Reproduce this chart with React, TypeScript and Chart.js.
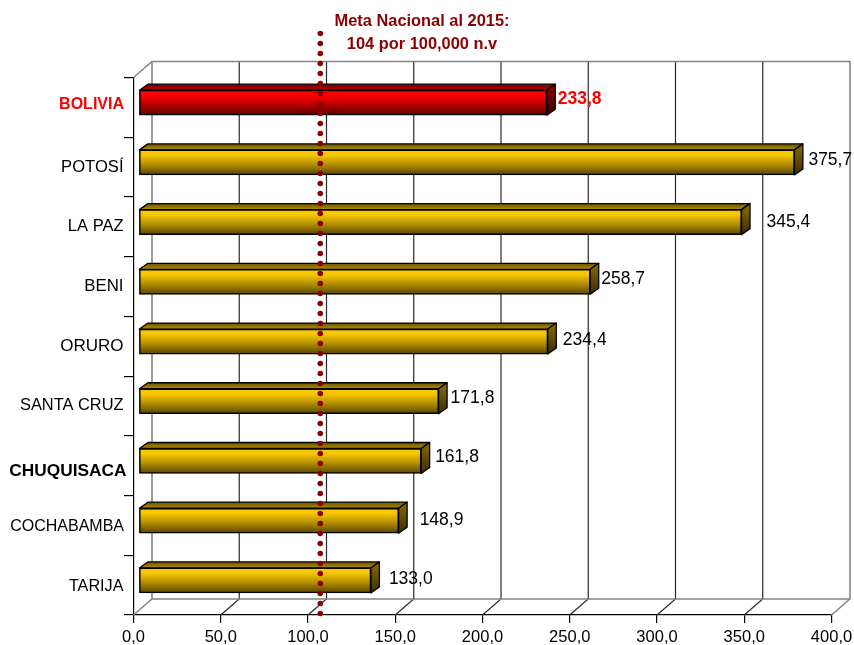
import React, { useEffect, useRef } from "react";
import { Chart, registerables } from "chart.js";

Chart.register(...registerables);

// Maternal mortality ratio by department, per 100,000 live births
const departments = ["BOLIVIA", "POTOSÍ", "LA PAZ", "BENI", "ORURO", "SANTA CRUZ", "CHUQUISACA", "COCHABAMBA", "TARIJA"];
const ratios = [233.8, 375.7, 345.4, 258.7, 234.4, 171.8, 161.8, 148.9, 133.0];
const nationalGoal = 104;
const goalLines = ["Meta Nacional al 2015:", "104 por 100,000 n.v"];

// Hand-placed offsets of the value labels (from the end of each bar) and category labels
const valueLabelDx = [2.5, 5.5, 16.5, 2.5, 6.5, 3.5, 5.5, 12.5, 9.5];
const valueLabelDy = [0, 1, 3, 0, 2, 0, -1, 2, 2];
const categoryLabelDx = [0, -0.5, -0.5, -0.5, -0.5, -0.5, 2.5, 0, -0.5];
const categoryLabelDy = [-3, 0, 0, 0, 0, 0, 6, 1, 1];
const categoryFontSize = [16, 16.6, 16.5, 16.8, 17, 16.4, 17.3, 16, 16.2];

const FONT = '"Liberation Sans", Arial, sans-serif';
const WALL = { dx: 18.5, dy: -16 };
const BAR_SHIFT = { dx: 5.3, dy: -4.7 };
const BAR_DEPTH = { dx: 8.5, dy: -6 };
const BAR_THICKNESS = 25;

const gold = { light: "#f8c800", mid: "#b08c00", dark: "#584400", top1: "#6a5400", top2: "#b08c00", side1: "#8a6e00", side2: "#3a2c00" };
const red = { light: "#ff0000", mid: "#b00000", dark: "#580000", top1: "#6a0000", top2: "#c00000", side1: "#900000", side2: "#3a0000" };
const shade = (i: number) => (i === 0 ? red : gold);

const faceGradient = (ctx: CanvasRenderingContext2D, y0: number, y1: number, stops: [number, string][]) => {
  const g = ctx.createLinearGradient(0, y0, 0, y1);
  stops.forEach(([p, c]) => g.addColorStop(p, c));
  return g;
};

const polygon = (ctx: CanvasRenderingContext2D, pts: number[][], fill: CanvasGradient | string) => {
  ctx.beginPath();
  pts.forEach(([x, y], i) => (i ? ctx.lineTo(x, y) : ctx.moveTo(x, y)));
  ctx.closePath();
  ctx.fillStyle = fill;
  ctx.fill();
  ctx.stroke();
};

const walls3d = {
  id: "walls3d",
  beforeDatasetsDraw(chart: any) {
    const { ctx, chartArea: a, scales } = chart;
    const x = scales.x;
    ctx.save();
    // gridlines on the back wall and across the floor
    x.ticks.forEach((t: any, i: number) => {
      if (i === 0 || i === x.ticks.length - 1) return;
      const px = x.getPixelForValue(t.value);
      ctx.strokeStyle = "#2a2a2a";
      ctx.lineWidth = 1.2;
      ctx.beginPath();
      ctx.moveTo(px, a.bottom);
      ctx.lineTo(px + WALL.dx, a.bottom + WALL.dy);
      ctx.lineTo(px + WALL.dx, a.top + WALL.dy);
      ctx.stroke();
    });
    // wall outline
    ctx.strokeStyle = "#858585";
    ctx.lineWidth = 1.6;
    ctx.beginPath();
    ctx.moveTo(a.left, a.top);
    ctx.lineTo(a.left + WALL.dx, a.top + WALL.dy);
    ctx.lineTo(a.right + WALL.dx, a.top + WALL.dy);
    ctx.lineTo(a.right + WALL.dx, a.bottom + WALL.dy);
    ctx.lineTo(a.right, a.bottom);
    ctx.moveTo(a.left, a.bottom);
    ctx.lineTo(a.left + WALL.dx, a.bottom + WALL.dy);
    ctx.lineTo(a.right + WALL.dx, a.bottom + WALL.dy);
    ctx.moveTo(a.left + WALL.dx, a.top + WALL.dy);
    ctx.lineTo(a.left + WALL.dx, a.bottom + WALL.dy);
    ctx.stroke();
    ctx.restore();
  },
  beforeDatasetDraw(chart: any) {
    const { ctx } = chart;
    ctx.save();
    ctx.translate(BAR_SHIFT.dx, BAR_SHIFT.dy);
    // top and end faces of each bar, behind its front face
    chart.getDatasetMeta(0).data.forEach((bar: any, i: number) => {
      const t = bar.y - BAR_THICKNESS / 2;
      const b = bar.y + BAR_THICKNESS / 2;
      const s = shade(i);
      const { dx, dy } = BAR_DEPTH;
      ctx.strokeStyle = "#000";
      ctx.lineWidth = 1.3;
      ctx.lineJoin = "round";
      polygon(ctx, [[bar.base, t], [bar.base + dx, t + dy], [bar.x + dx, t + dy], [bar.x, t]],
        faceGradient(ctx, t + dy, t, [[0, s.top1], [1, s.top2]]));
      polygon(ctx, [[bar.x, t], [bar.x + dx, t + dy], [bar.x + dx, b + dy], [bar.x, b]],
        faceGradient(ctx, t + dy, b, [[0, s.side1], [1, s.side2]]));
    });
  },
  afterDatasetDraw(chart: any) {
    chart.ctx.restore();
  },
  afterDatasetsDraw(chart: any) {
    const { ctx, chartArea: a, scales } = chart;
    ctx.save();
    // value labels beside the bar ends
    ctx.textAlign = "left";
    ctx.textBaseline = "middle";
    chart.getDatasetMeta(0).data.forEach((bar: any, i: number) => {
      ctx.font = i === 0 ? `bold 17.5px ${FONT}` : `17.5px ${FONT}`;
      ctx.fillStyle = i === 0 ? "#ff0000" : "#000";
      const text = ratios[i].toFixed(1).replace(".", ",");
      ctx.fillText(text, bar.x + BAR_SHIFT.dx + BAR_DEPTH.dx + valueLabelDx[i],
        bar.y + BAR_SHIFT.dy + BAR_DEPTH.dy / 2 + valueLabelDy[i]);
    });
    // dotted line of the national goal
    const gx = scales.x.getPixelForValue(nationalGoal) + BAR_SHIFT.dx;
    ctx.strokeStyle = "#8b0000";
    ctx.lineWidth = 5.6;
    ctx.lineCap = "round";
    ctx.setLineDash([0, 10]);
    ctx.beginPath();
    ctx.moveTo(gx, 33.5);
    ctx.lineTo(gx, a.bottom + 1);
    ctx.stroke();
    ctx.setLineDash([]);
    // caption of the goal
    ctx.fillStyle = "#8b0000";
    ctx.font = `bold 16.4px ${FONT}`;
    ctx.textAlign = "center";
    ctx.fillText(goalLines[0], 422, 21.8);
    ctx.fillText(goalLines[1], 422, 44);
    ctx.restore();
  },
  beforeDraw(chart: any) {
    // nudge the category labels that sit off their band centres
    chart.scales.y.getLabelItems().forEach((item: any, i: number) => {
      if (item.shifted) return;
      item.shifted = true;
      item.options.translation = [item.options.translation[0] + categoryLabelDx[i], item.options.translation[1] + categoryLabelDy[i]];
    });
  },
};

export default function App() {
  const ref = useRef<HTMLCanvasElement>(null);
  useEffect(() => {
    const chart = new Chart(ref.current!, {
      type: "bar",
      data: {
        labels: departments,
        datasets: [
          {
            data: ratios,
            barThickness: BAR_THICKNESS,
            borderColor: "#000",
            borderWidth: 1.5,
            borderSkipped: false,
            backgroundColor: (c: any) => {
              const yScale = c.chart.scales.y;
              const i = c.dataIndex ?? 0;
              const mid = yScale ? yScale.getPixelForValue(i) : NaN;
              if (!Number.isFinite(mid)) return gold.light;
              const s = shade(i);
              return faceGradient(c.chart.ctx, mid - BAR_THICKNESS / 2, mid + BAR_THICKNESS / 2, [
                [0, s.light],
                [0.2, s.light],
                [0.6, s.mid],
                [1, s.dark],
              ]);
            },
          },
        ],
      },
      options: {
        indexAxis: "y",
        animation: false,
        responsive: false,
        layout: { padding: { left: 0, top: 77.5, right: 22.5, bottom: 0 } },
        plugins: { legend: { display: false }, tooltip: { enabled: false } },
        scales: {
          x: {
            min: 0,
            max: 400,
            afterFit: (s: any) => {
              s.height = 30;
              s.paddingLeft = 0;
              s.paddingRight = 0;
            },
            border: { color: "#000", width: 1.2 },
            grid: { drawOnChartArea: false, color: "#000", tickLength: 8, lineWidth: 1.2 },
            ticks: {
              stepSize: 50,
              autoSkip: false,
              maxRotation: 0,
              padding: 5,
              color: "#000",
              font: { family: FONT, size: 16.5 },
              callback: (v: any) => Number(v).toFixed(1).replace(".", ","),
            },
          },
          y: {
            afterFit: (s: any) => {
              s.width = 133.5;
            },
            border: { color: "#000", width: 1.2 },
            grid: { drawOnChartArea: false, color: "#000", tickLength: 9.5, lineWidth: 1.2 },
            ticks: {
              autoSkip: false,
              padding: 0,
              color: (c: any) => (c.index === 0 ? "#ff0000" : "#000"),
              font: (c: any) => ({
                family: FONT,
                size: categoryFontSize[c.index],
                weight: c.index === 0 || c.index === 6 ? "bold" : "normal",
              }),
            },
          },
        },
      },
      plugins: [walls3d],
    } as any);
    return () => chart.destroy();
  }, []);
  return (
    <div style={{ position: "fixed", left: 0, top: 0, width: 854, height: 645, background: "#fff" }}>
      <canvas ref={ref} width={854} height={645} style={{ display: "block" }} />
    </div>
  );
}
